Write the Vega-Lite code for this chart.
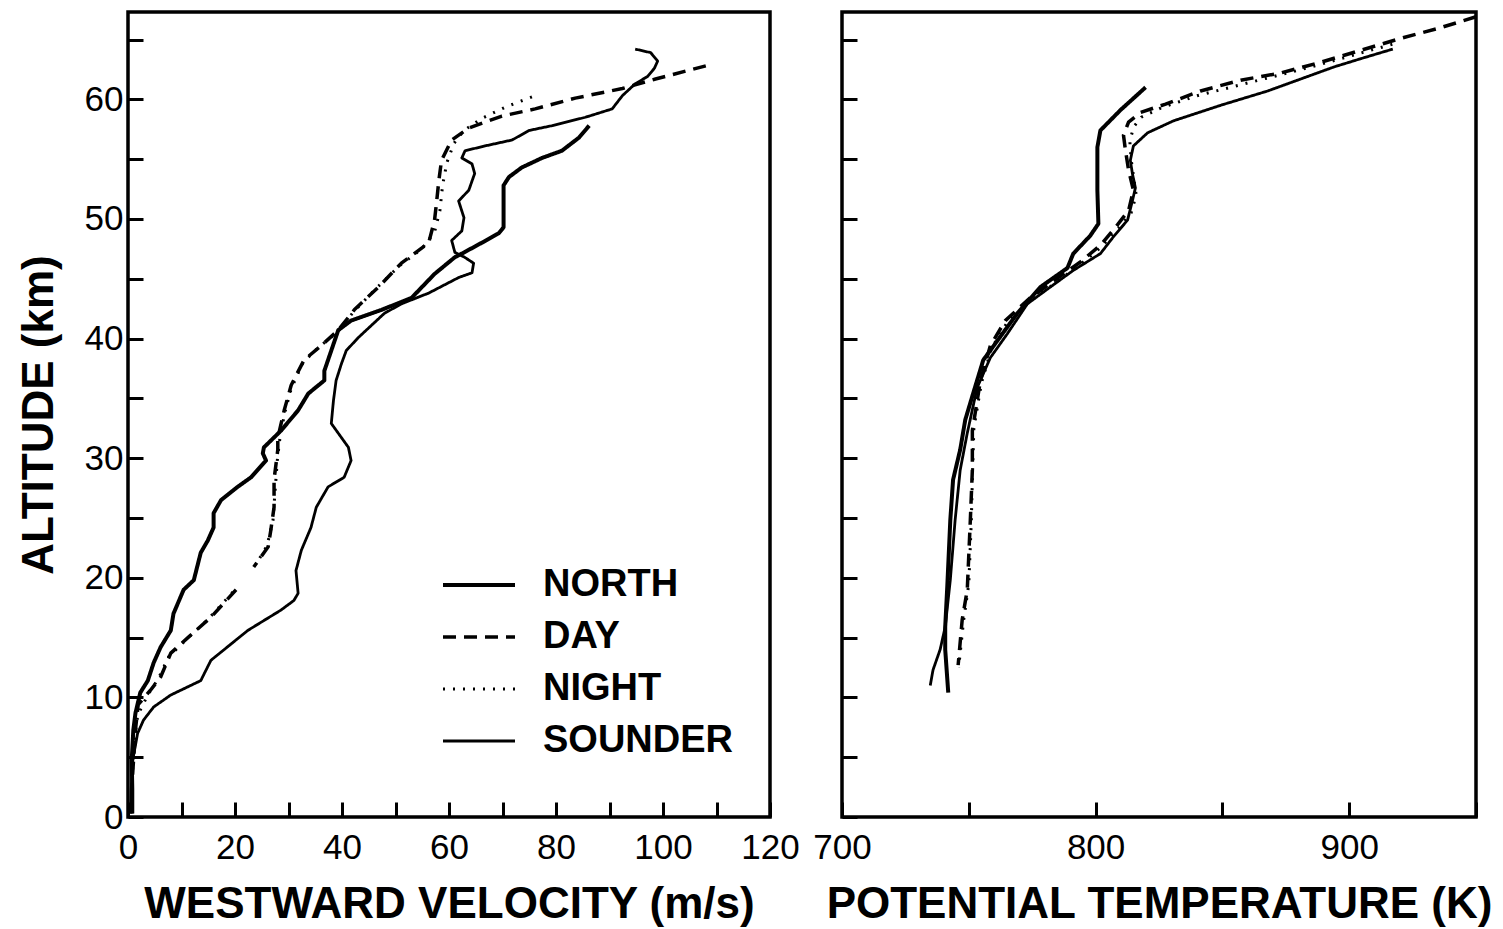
{
  "$schema": "https://vega.github.io/schema/vega-lite/v6.json",
  "background": "white",
  "padding": {"left": 15, "top": 10, "right": 5, "bottom": 5},
  "bounds": "flush",
  "spacing": 72,
  "config": {
    "font": "Liberation Sans",
    "view": {"stroke": "black", "strokeWidth": 3.5},
    "axis": {"domain": false, "grid": false, "tickColor": "black", "tickWidth": 3, "tickSize": -15, "labelColor": "black", "labelFont": "Liberation Sans", "labelFontSize": 35, "labelFontWeight": "normal", "titleColor": "black", "titleFont": "Liberation Sans", "titleFontSize": 44, "titleFontWeight": "bold", "labelOverlap": false, "labelFlush": false},
    "legend": {"symbolType": "stroke", "symbolSize": 5184, "symbolStrokeColor": "black", "labelFontSize": 38, "labelFontWeight": "bold", "labelFont": "Liberation Sans", "labelColor": "black", "labelOffset": 26, "labelLimit": 400, "clipHeight": 38, "rowPadding": 14, "padding": 0}
  },
  "resolve": {"legend": {"strokeDash": "independent", "strokeWidth": "independent"}},
  "datasets": {
    "left": [
      {"s":"NORTH","g":"NO","i":0,"v":86.2,"a":57.8},{"s":"NORTH","g":"NO","i":1,"v":84.3,"a":56.8},{"s":"NORTH","g":"NO","i":2,"v":81.1,"a":55.7},{"s":"NORTH","g":"NO","i":3,"v":77.4,"a":55.1},{"s":"NORTH","g":"NO","i":4,"v":73.6,"a":54.3},{"s":"NORTH","g":"NO","i":5,"v":71.2,"a":53.5},{"s":"NORTH","g":"NO","i":6,"v":70.2,"a":52.8},{"s":"NORTH","g":"NO","i":7,"v":70.2,"a":49.3},{"s":"NORTH","g":"NO","i":8,"v":69.3,"a":48.8},{"s":"NORTH","g":"NO","i":9,"v":66.1,"a":48.0},{"s":"NORTH","g":"NO","i":10,"v":62.4,"a":47.1},{"s":"NORTH","g":"NO","i":11,"v":61.1,"a":46.8},{"s":"NORTH","g":"NO","i":12,"v":57.3,"a":45.4},{"s":"NORTH","g":"NO","i":13,"v":53.0,"a":43.4},{"s":"NORTH","g":"NO","i":14,"v":47.4,"a":42.4},{"s":"NORTH","g":"NO","i":15,"v":41.7,"a":41.5},{"s":"NORTH","g":"NO","i":16,"v":39.3,"a":40.7},{"s":"NORTH","g":"NO","i":17,"v":38.0,"a":39.0},{"s":"NORTH","g":"NO","i":18,"v":36.7,"a":37.3},{"s":"NORTH","g":"NO","i":19,"v":36.7,"a":36.5},{"s":"NORTH","g":"NO","i":20,"v":33.7,"a":35.4},{"s":"NORTH","g":"NO","i":21,"v":31.8,"a":34.0},{"s":"NORTH","g":"NO","i":22,"v":28.6,"a":32.3},{"s":"NORTH","g":"NO","i":23,"v":25.4,"a":30.9},{"s":"NORTH","g":"NO","i":24,"v":25.2,"a":30.4},{"s":"NORTH","g":"NO","i":25,"v":25.8,"a":29.8},{"s":"NORTH","g":"NO","i":26,"v":23.0,"a":28.4},{"s":"NORTH","g":"NO","i":27,"v":20.5,"a":27.6},{"s":"NORTH","g":"NO","i":28,"v":17.4,"a":26.5},{"s":"NORTH","g":"NO","i":29,"v":16.0,"a":25.4},{"s":"NORTH","g":"NO","i":30,"v":16.0,"a":24.2},{"s":"NORTH","g":"NO","i":31,"v":14.9,"a":23.1},{"s":"NORTH","g":"NO","i":32,"v":13.6,"a":22.1},{"s":"NORTH","g":"NO","i":33,"v":12.3,"a":19.8},{"s":"NORTH","g":"NO","i":34,"v":10.4,"a":19.0},{"s":"NORTH","g":"NO","i":35,"v":8.5,"a":17.0},{"s":"NORTH","g":"NO","i":36,"v":8.0,"a":15.6},{"s":"NORTH","g":"NO","i":37,"v":6.1,"a":14.2},{"s":"NORTH","g":"NO","i":38,"v":4.8,"a":12.9},{"s":"NORTH","g":"NO","i":39,"v":3.7,"a":11.4},{"s":"NORTH","g":"NO","i":40,"v":2.3,"a":10.4},{"s":"NORTH","g":"NO","i":41,"v":1.4,"a":8.7},{"s":"NORTH","g":"NO","i":42,"v":1.0,"a":7.3},{"s":"NORTH","g":"NO","i":43,"v":0.7,"a":4.8},{"s":"NORTH","g":"NO","i":44,"v":0.8,"a":2.3},{"s":"NORTH","g":"NO","i":45,"v":0.8,"a":0.3},
      {"s":"SOUNDER","g":"SO","i":0,"v":94.8,"a":64.2},{"s":"SOUNDER","g":"SO","i":1,"v":97.7,"a":63.9},{"s":"SOUNDER","g":"SO","i":2,"v":99.0,"a":63.2},{"s":"SOUNDER","g":"SO","i":3,"v":98.4,"a":62.6},{"s":"SOUNDER","g":"SO","i":4,"v":97.1,"a":61.9},{"s":"SOUNDER","g":"SO","i":5,"v":94.8,"a":61.3},{"s":"SOUNDER","g":"SO","i":6,"v":92.4,"a":60.3},{"s":"SOUNDER","g":"SO","i":7,"v":90.5,"a":59.2},{"s":"SOUNDER","g":"SO","i":8,"v":85.5,"a":58.5},{"s":"SOUNDER","g":"SO","i":9,"v":79.3,"a":57.8},{"s":"SOUNDER","g":"SO","i":10,"v":75.0,"a":57.4},{"s":"SOUNDER","g":"SO","i":11,"v":71.8,"a":56.6},{"s":"SOUNDER","g":"SO","i":12,"v":66.7,"a":56.1},{"s":"SOUNDER","g":"SO","i":13,"v":63.0,"a":55.7},{"s":"SOUNDER","g":"SO","i":14,"v":62.4,"a":55.1},{"s":"SOUNDER","g":"SO","i":15,"v":64.3,"a":54.6},{"s":"SOUNDER","g":"SO","i":16,"v":64.8,"a":53.8},{"s":"SOUNDER","g":"SO","i":17,"v":63.7,"a":52.4},{"s":"SOUNDER","g":"SO","i":18,"v":61.8,"a":51.5},{"s":"SOUNDER","g":"SO","i":19,"v":62.8,"a":50.1},{"s":"SOUNDER","g":"SO","i":20,"v":62.4,"a":49.0},{"s":"SOUNDER","g":"SO","i":21,"v":60.5,"a":48.2},{"s":"SOUNDER","g":"SO","i":22,"v":61.1,"a":47.2},{"s":"SOUNDER","g":"SO","i":23,"v":62.9,"a":46.8},{"s":"SOUNDER","g":"SO","i":24,"v":64.6,"a":46.3},{"s":"SOUNDER","g":"SO","i":25,"v":64.3,"a":45.5},{"s":"SOUNDER","g":"SO","i":26,"v":61.8,"a":45.1},{"s":"SOUNDER","g":"SO","i":27,"v":56.2,"a":43.8},{"s":"SOUNDER","g":"SO","i":28,"v":51.1,"a":42.9},{"s":"SOUNDER","g":"SO","i":29,"v":47.9,"a":42.1},{"s":"SOUNDER","g":"SO","i":30,"v":43.1,"a":40.1},{"s":"SOUNDER","g":"SO","i":31,"v":40.8,"a":39.0},{"s":"SOUNDER","g":"SO","i":32,"v":39.9,"a":37.9},{"s":"SOUNDER","g":"SO","i":33,"v":38.9,"a":36.5},{"s":"SOUNDER","g":"SO","i":34,"v":38.4,"a":34.8},{"s":"SOUNDER","g":"SO","i":35,"v":38.0,"a":32.9},{"s":"SOUNDER","g":"SO","i":36,"v":41.2,"a":30.9},{"s":"SOUNDER","g":"SO","i":37,"v":41.7,"a":29.8},{"s":"SOUNDER","g":"SO","i":38,"v":40.4,"a":28.4},{"s":"SOUNDER","g":"SO","i":39,"v":37.4,"a":27.6},{"s":"SOUNDER","g":"SO","i":40,"v":35.2,"a":25.9},{"s":"SOUNDER","g":"SO","i":41,"v":34.2,"a":24.2},{"s":"SOUNDER","g":"SO","i":42,"v":32.4,"a":22.3},{"s":"SOUNDER","g":"SO","i":43,"v":31.4,"a":20.6},{"s":"SOUNDER","g":"SO","i":44,"v":31.8,"a":18.7},{"s":"SOUNDER","g":"SO","i":45,"v":31.0,"a":18.1},{"s":"SOUNDER","g":"SO","i":46,"v":28.6,"a":17.3},{"s":"SOUNDER","g":"SO","i":47,"v":22.4,"a":15.6},{"s":"SOUNDER","g":"SO","i":48,"v":15.5,"a":13.1},{"s":"SOUNDER","g":"SO","i":49,"v":13.6,"a":11.4},{"s":"SOUNDER","g":"SO","i":50,"v":8.0,"a":10.2},{"s":"SOUNDER","g":"SO","i":51,"v":4.8,"a":9.2},{"s":"SOUNDER","g":"SO","i":52,"v":2.9,"a":8.1},{"s":"SOUNDER","g":"SO","i":53,"v":1.8,"a":7.0},{"s":"SOUNDER","g":"SO","i":54,"v":0.9,"a":4.8},{"s":"SOUNDER","g":"SO","i":55,"v":0.6,"a":2.3},{"s":"SOUNDER","g":"SO","i":56,"v":0.5,"a":0.3},
      {"s":"DAY","g":"D1","i":0,"v":108.0,"a":62.8},{"s":"DAY","g":"D1","i":1,"v":98.6,"a":61.7},{"s":"DAY","g":"D1","i":2,"v":92.4,"a":60.9},{"s":"DAY","g":"D1","i":3,"v":83.6,"a":60.1},{"s":"DAY","g":"D1","i":4,"v":76.1,"a":59.2},{"s":"DAY","g":"D1","i":5,"v":69.9,"a":58.6},{"s":"DAY","g":"D1","i":6,"v":63.7,"a":57.6},{"s":"DAY","g":"D1","i":7,"v":60.5,"a":56.6},{"s":"DAY","g":"D1","i":8,"v":58.6,"a":54.9},{"s":"DAY","g":"D1","i":9,"v":58.1,"a":53.2},{"s":"DAY","g":"D1","i":10,"v":57.7,"a":51.5},{"s":"DAY","g":"D1","i":11,"v":57.3,"a":49.9},{"s":"DAY","g":"D1","i":12,"v":56.2,"a":48.0},{"s":"DAY","g":"D1","i":13,"v":51.1,"a":46.3},{"s":"DAY","g":"D1","i":14,"v":46.8,"a":44.3},{"s":"DAY","g":"D1","i":15,"v":42.3,"a":42.4},{"s":"DAY","g":"D1","i":16,"v":39.3,"a":40.7},{"s":"DAY","g":"D1","i":17,"v":36.1,"a":39.4},{"s":"DAY","g":"D1","i":18,"v":32.9,"a":38.2},{"s":"DAY","g":"D1","i":19,"v":30.5,"a":36.1},{"s":"DAY","g":"D1","i":20,"v":29.2,"a":34.0},{"s":"DAY","g":"D1","i":21,"v":28.0,"a":31.7},{"s":"DAY","g":"D1","i":22,"v":28.0,"a":30.7},{"s":"DAY","g":"D1","i":23,"v":27.3,"a":28.2},{"s":"DAY","g":"D1","i":24,"v":27.3,"a":25.9},{"s":"DAY","g":"D1","i":25,"v":26.7,"a":24.0},{"s":"DAY","g":"D1","i":26,"v":26.2,"a":22.6},{"s":"DAY","g":"D1","i":27,"v":23.5,"a":20.9},
      {"s":"DAY","g":"D2","i":28,"v":20.2,"a":19.0},{"s":"DAY","g":"D2","i":29,"v":15.5,"a":16.7},{"s":"DAY","g":"D2","i":30,"v":11.2,"a":15.0},{"s":"DAY","g":"D2","i":31,"v":8.0,"a":13.7},{"s":"DAY","g":"D2","i":32,"v":6.1,"a":11.7},{"s":"DAY","g":"D2","i":33,"v":4.2,"a":10.6},{"s":"DAY","g":"D2","i":34,"v":1.9,"a":9.4},{"s":"DAY","g":"D2","i":35,"v":1.4,"a":7.3},{"s":"DAY","g":"D2","i":36,"v":0.8,"a":3.1},{"s":"DAY","g":"D2","i":37,"v":0.7,"a":0.3},
      {"s":"NIGHT","g":"N1","i":0,"v":75.5,"a":60.2},{"s":"NIGHT","g":"N1","i":1,"v":70.8,"a":59.4},{"s":"NIGHT","g":"N1","i":2,"v":66.1,"a":58.4},{"s":"NIGHT","g":"N1","i":3,"v":62.8,"a":57.4},{"s":"NIGHT","g":"N1","i":4,"v":60.9,"a":56.3},{"s":"NIGHT","g":"N1","i":5,"v":59.6,"a":54.7},{"s":"NIGHT","g":"N1","i":6,"v":58.8,"a":52.8},{"s":"NIGHT","g":"N1","i":7,"v":58.3,"a":50.7},{"s":"NIGHT","g":"N1","i":8,"v":57.3,"a":48.9},{"s":"NIGHT","g":"N1","i":9,"v":54.9,"a":47.5},{"s":"NIGHT","g":"N1","i":10,"v":50.8,"a":46.1},{"s":"NIGHT","g":"N1","i":11,"v":46.4,"a":44.2},{"s":"NIGHT","g":"N1","i":12,"v":42.1,"a":42.2},{"s":"NIGHT","g":"N1","i":13,"v":39.1,"a":40.5},{"s":"NIGHT","g":"N1","i":14,"v":35.7,"a":39.3},{"s":"NIGHT","g":"N1","i":15,"v":32.7,"a":38.0},{"s":"NIGHT","g":"N1","i":16,"v":30.5,"a":35.8},{"s":"NIGHT","g":"N1","i":17,"v":29.3,"a":33.8},{"s":"NIGHT","g":"N1","i":18,"v":28.4,"a":31.7},{"s":"NIGHT","g":"N1","i":19,"v":27.9,"a":29.8},{"s":"NIGHT","g":"N1","i":20,"v":27.5,"a":27.3},{"s":"NIGHT","g":"N1","i":21,"v":27.1,"a":24.8},{"s":"NIGHT","g":"N1","i":22,"v":26.0,"a":22.7},{"s":"NIGHT","g":"N1","i":23,"v":23.9,"a":21.1},
      {"s":"NIGHT","g":"N2","i":24,"v":19.6,"a":18.8},{"s":"NIGHT","g":"N2","i":25,"v":14.9,"a":16.5},{"s":"NIGHT","g":"N2","i":26,"v":10.8,"a":14.8},{"s":"NIGHT","g":"N2","i":27,"v":7.6,"a":13.4},{"s":"NIGHT","g":"N2","i":28,"v":5.7,"a":11.6},{"s":"NIGHT","g":"N2","i":29,"v":3.7,"a":10.2},{"s":"NIGHT","g":"N2","i":30,"v":1.8,"a":8.5},{"s":"NIGHT","g":"N2","i":31,"v":1.0,"a":5.6},{"s":"NIGHT","g":"N2","i":32,"v":0.7,"a":1.4}
    ],
    "right": [
      {"s":"NORTH","g":"NO","i":0,"t":819.7,"a":61.0},{"s":"NORTH","g":"NO","i":1,"t":809.8,"a":59.1},{"s":"NORTH","g":"NO","i":2,"t":801.9,"a":57.4},{"s":"NORTH","g":"NO","i":3,"t":800.7,"a":56.0},{"s":"NORTH","g":"NO","i":4,"t":800.7,"a":52.4},{"s":"NORTH","g":"NO","i":5,"t":801.1,"a":49.6},{"s":"NORTH","g":"NO","i":6,"t":797.9,"a":48.6},{"s":"NORTH","g":"NO","i":7,"t":791.2,"a":47.1},{"s":"NORTH","g":"NO","i":8,"t":788.9,"a":45.9},{"s":"NORTH","g":"NO","i":9,"t":778.2,"a":44.3},{"s":"NORTH","g":"NO","i":10,"t":769.1,"a":42.1},{"s":"NORTH","g":"NO","i":11,"t":761.2,"a":39.8},{"s":"NORTH","g":"NO","i":12,"t":755.7,"a":38.2},{"s":"NORTH","g":"NO","i":13,"t":751.7,"a":35.4},{"s":"NORTH","g":"NO","i":14,"t":748.6,"a":33.2},{"s":"NORTH","g":"NO","i":15,"t":746.6,"a":30.7},{"s":"NORTH","g":"NO","i":16,"t":743.8,"a":28.2},{"s":"NORTH","g":"NO","i":17,"t":742.7,"a":24.8},{"s":"NORTH","g":"NO","i":18,"t":741.5,"a":19.2},{"s":"NORTH","g":"NO","i":19,"t":740.7,"a":15.9},{"s":"NORTH","g":"NO","i":20,"t":740.7,"a":14.0},{"s":"NORTH","g":"NO","i":21,"t":741.9,"a":10.4},
      {"s":"SOUNDER","g":"SO","i":0,"t":917.2,"a":64.2},{"s":"SOUNDER","g":"SO","i":1,"t":904.6,"a":63.4},{"s":"SOUNDER","g":"SO","i":2,"t":893.9,"a":62.7},{"s":"SOUNDER","g":"SO","i":3,"t":880.9,"a":61.7},{"s":"SOUNDER","g":"SO","i":4,"t":867.9,"a":60.7},{"s":"SOUNDER","g":"SO","i":5,"t":849.3,"a":59.5},{"s":"SOUNDER","g":"SO","i":6,"t":830.7,"a":58.2},{"s":"SOUNDER","g":"SO","i":7,"t":820.5,"a":57.2},{"s":"SOUNDER","g":"SO","i":8,"t":814.9,"a":56.1},{"s":"SOUNDER","g":"SO","i":9,"t":813.7,"a":54.9},{"s":"SOUNDER","g":"SO","i":10,"t":814.5,"a":53.8},{"s":"SOUNDER","g":"SO","i":11,"t":815.7,"a":52.6},{"s":"SOUNDER","g":"SO","i":12,"t":814.5,"a":51.5},{"s":"SOUNDER","g":"SO","i":13,"t":812.6,"a":49.9},{"s":"SOUNDER","g":"SO","i":14,"t":807.0,"a":48.5},{"s":"SOUNDER","g":"SO","i":15,"t":801.9,"a":47.1},{"s":"SOUNDER","g":"SO","i":16,"t":791.2,"a":45.7},{"s":"SOUNDER","g":"SO","i":17,"t":782.1,"a":44.3},{"s":"SOUNDER","g":"SO","i":18,"t":773.1,"a":42.9},{"s":"SOUNDER","g":"SO","i":19,"t":765.2,"a":40.4},{"s":"SOUNDER","g":"SO","i":20,"t":758.5,"a":38.4},{"s":"SOUNDER","g":"SO","i":21,"t":753.3,"a":35.9},{"s":"SOUNDER","g":"SO","i":22,"t":749.4,"a":32.1},{"s":"SOUNDER","g":"SO","i":23,"t":746.6,"a":29.0},{"s":"SOUNDER","g":"SO","i":24,"t":744.6,"a":24.8},{"s":"SOUNDER","g":"SO","i":25,"t":742.7,"a":19.8},{"s":"SOUNDER","g":"SO","i":26,"t":740.7,"a":15.9},{"s":"SOUNDER","g":"SO","i":27,"t":738.7,"a":14.0},{"s":"SOUNDER","g":"SO","i":28,"t":735.9,"a":12.3},{"s":"SOUNDER","g":"SO","i":29,"t":734.8,"a":11.0},
      {"s":"DAY","g":"D","i":0,"t":950.0,"a":66.9},{"s":"DAY","g":"D","i":1,"t":936.2,"a":66.0},{"s":"DAY","g":"D","i":2,"t":920.4,"a":65.1},{"s":"DAY","g":"D","i":3,"t":904.6,"a":64.1},{"s":"DAY","g":"D","i":4,"t":888.8,"a":63.1},{"s":"DAY","g":"D","i":5,"t":873.0,"a":62.2},{"s":"DAY","g":"D","i":6,"t":857.2,"a":61.6},{"s":"DAY","g":"D","i":7,"t":841.4,"a":60.7},{"s":"DAY","g":"D","i":8,"t":827.6,"a":59.6},{"s":"DAY","g":"D","i":9,"t":817.7,"a":58.9},{"s":"DAY","g":"D","i":10,"t":813.0,"a":58.1},{"s":"DAY","g":"D","i":11,"t":811.0,"a":57.0},{"s":"DAY","g":"D","i":12,"t":811.8,"a":55.7},{"s":"DAY","g":"D","i":13,"t":813.0,"a":54.1},{"s":"DAY","g":"D","i":14,"t":814.9,"a":52.4},{"s":"DAY","g":"D","i":15,"t":813.0,"a":50.7},{"s":"DAY","g":"D","i":16,"t":808.6,"a":49.5},{"s":"DAY","g":"D","i":17,"t":801.9,"a":47.8},{"s":"DAY","g":"D","i":18,"t":794.0,"a":46.4},{"s":"DAY","g":"D","i":19,"t":784.1,"a":44.9},{"s":"DAY","g":"D","i":20,"t":774.2,"a":43.4},{"s":"DAY","g":"D","i":21,"t":764.4,"a":41.5},{"s":"DAY","g":"D","i":22,"t":758.5,"a":39.4},{"s":"DAY","g":"D","i":23,"t":754.6,"a":36.5},{"s":"DAY","g":"D","i":24,"t":751.4,"a":32.3},{"s":"DAY","g":"D","i":25,"t":751.4,"a":29.0},{"s":"DAY","g":"D","i":26,"t":750.6,"a":24.8},{"s":"DAY","g":"D","i":27,"t":749.4,"a":19.0},{"s":"DAY","g":"D","i":28,"t":747.4,"a":16.5},{"s":"DAY","g":"D","i":29,"t":745.8,"a":12.7},
      {"s":"NIGHT","g":"NI","i":0,"t":917.0,"a":64.6},{"s":"NIGHT","g":"NI","i":1,"t":900.0,"a":63.6},{"s":"NIGHT","g":"NI","i":2,"t":885.0,"a":62.7},{"s":"NIGHT","g":"NI","i":3,"t":870.0,"a":61.9},{"s":"NIGHT","g":"NI","i":4,"t":855.0,"a":61.1},{"s":"NIGHT","g":"NI","i":5,"t":840.0,"a":60.3},{"s":"NIGHT","g":"NI","i":6,"t":826.0,"a":59.3},{"s":"NIGHT","g":"NI","i":7,"t":818.0,"a":58.5},{"s":"NIGHT","g":"NI","i":8,"t":815.0,"a":57.7},{"s":"NIGHT","g":"NI","i":9,"t":813.5,"a":56.5},{"s":"NIGHT","g":"NI","i":10,"t":814.0,"a":55.0},{"s":"NIGHT","g":"NI","i":11,"t":815.0,"a":53.5},{"s":"NIGHT","g":"NI","i":12,"t":816.0,"a":52.0},{"s":"NIGHT","g":"NI","i":13,"t":814.0,"a":50.5},{"s":"NIGHT","g":"NI","i":14,"t":809.0,"a":49.2},{"s":"NIGHT","g":"NI","i":15,"t":802.0,"a":47.6},{"s":"NIGHT","g":"NI","i":16,"t":794.0,"a":46.2},{"s":"NIGHT","g":"NI","i":17,"t":784.5,"a":44.7},{"s":"NIGHT","g":"NI","i":18,"t":774.5,"a":43.2},{"s":"NIGHT","g":"NI","i":19,"t":765.0,"a":41.3},{"s":"NIGHT","g":"NI","i":20,"t":759.0,"a":39.2},{"s":"NIGHT","g":"NI","i":21,"t":755.0,"a":36.3},{"s":"NIGHT","g":"NI","i":22,"t":752.0,"a":32.5},{"s":"NIGHT","g":"NI","i":23,"t":751.5,"a":29.0},{"s":"NIGHT","g":"NI","i":24,"t":751.0,"a":24.8},{"s":"NIGHT","g":"NI","i":25,"t":750.0,"a":19.5},{"s":"NIGHT","g":"NI","i":26,"t":748.0,"a":16.5},{"s":"NIGHT","g":"NI","i":27,"t":746.5,"a":13.5},{"s":"NIGHT","g":"NI","i":28,"t":746.0,"a":12.5}
    ]
  },
  "hconcat": [
    {
      "width": 642,
      "height": 805,
      "data": {"name": "left"},
      "mark": {"type": "line", "color": "black", "strokeCap": "butt", "strokeJoin": "round"},
      "encoding": {
        "x": {"field": "v", "type": "quantitative", "scale": {"domain": [0, 120], "nice": false, "zero": false}, "axis": {"title": "WESTWARD VELOCITY (m/s)", "values": [0,10,20,30,40,50,60,70,80,90,100,110,120], "labelExpr": "datum.value % 20 === 0 ? datum.label : ''", "labelPadding": 28, "titlePadding": 17}},
        "y": {"field": "a", "type": "quantitative", "scale": {"domain": [0, 67.3], "nice": false, "zero": false}, "axis": {"title": "ALTITUDE (km)", "values": [0,5,10,15,20,25,30,35,40,45,50,55,60,65], "labelExpr": "datum.value % 10 === 0 ? datum.label : ''", "labelPadding": 20, "titlePadding": 23}},
        "detail": {"field": "g", "type": "nominal"},
        "order": {"field": "i", "type": "quantitative"},
        "strokeDash": {"field": "s", "type": "nominal", "scale": {"domain": ["NORTH","DAY","NIGHT","SOUNDER"], "range": [[1,0],[13,8],[2,8],[1,0]]}, "legend": {"title": null, "orient": "none", "legendX": 313, "legendY": 554}},
        "strokeWidth": {"field": "s", "type": "nominal", "scale": {"type": "ordinal", "domain": ["NORTH","DAY","NIGHT","SOUNDER"], "range": [4, 3.5, 3, 2.8]}, "legend": {"title": null, "orient": "none", "legendX": 313, "legendY": 554}}
      }
    },
    {
      "width": 634,
      "height": 805,
      "data": {"name": "right"},
      "mark": {"type": "line", "color": "black", "strokeCap": "butt", "strokeJoin": "round"},
      "encoding": {
        "x": {"field": "t", "type": "quantitative", "scale": {"domain": [700, 950], "nice": false, "zero": false}, "axis": {"title": "POTENTIAL TEMPERATURE (K)", "values": [700,750,800,850,900,950], "labelExpr": "(datum.value === 700 || datum.value === 800 || datum.value === 900) ? datum.label : ''", "labelPadding": 28, "titlePadding": 17}},
        "y": {"field": "a", "type": "quantitative", "scale": {"domain": [0, 67.3], "nice": false, "zero": false}, "axis": {"title": null, "labels": false, "values": [0,5,10,15,20,25,30,35,40,45,50,55,60,65]}},
        "detail": {"field": "g", "type": "nominal"},
        "order": {"field": "i", "type": "quantitative"},
        "strokeDash": {"field": "s", "type": "nominal", "scale": {"domain": ["NORTH","DAY","NIGHT","SOUNDER"], "range": [[1,0],[13,8],[2,8],[1,0]]}, "legend": null},
        "strokeWidth": {"field": "s", "type": "nominal", "scale": {"type": "ordinal", "domain": ["NORTH","DAY","NIGHT","SOUNDER"], "range": [4, 3.5, 3, 2.8]}, "legend": null}
      }
    }
  ]
}
